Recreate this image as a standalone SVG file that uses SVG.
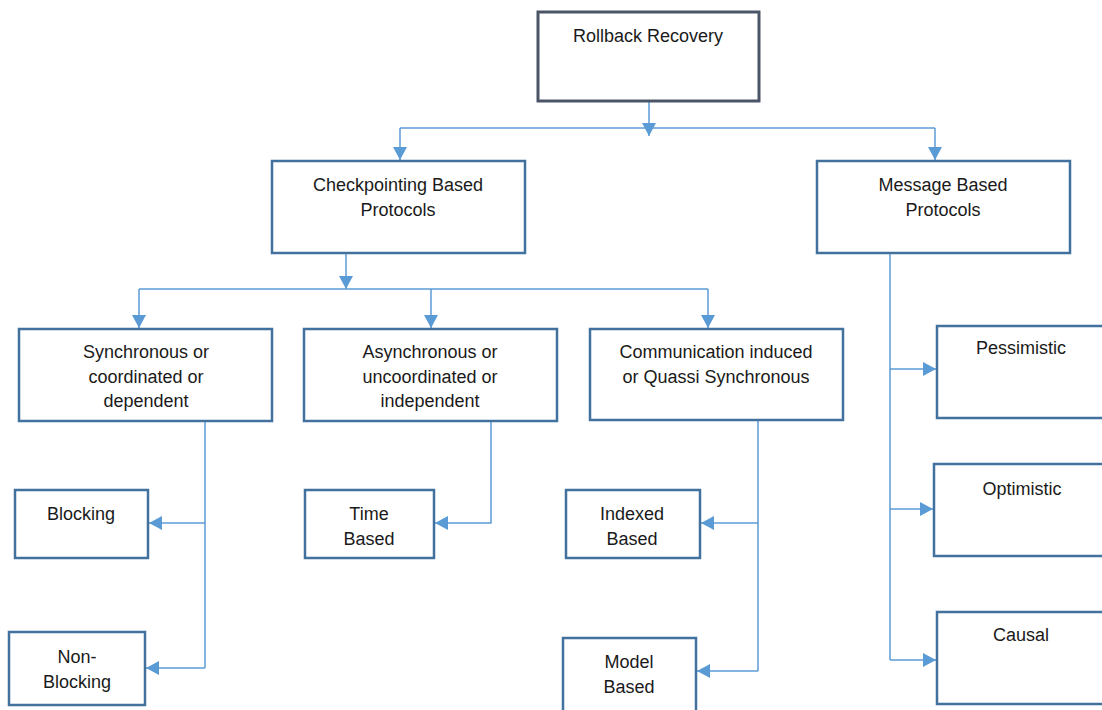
<svg xmlns="http://www.w3.org/2000/svg" width="1102" height="710" viewBox="0 0 1102 710">
<style>
.box{fill:#fff;stroke:#41719c;stroke-width:2.5}
.root{fill:#fff;stroke:#4a5567;stroke-width:3}
.t{font-family:"Liberation Sans",Arial,sans-serif;font-size:18px;fill:#1a1a1a;text-anchor:middle}
.c{fill:none;stroke:#5b9bd5;stroke-width:1.5}
</style>
<defs>
<marker id="ah" markerUnits="userSpaceOnUse" markerWidth="14" markerHeight="14" refX="13" refY="7" orient="auto">
<path d="M0,0 L13,7 L0,14 z" fill="#5b9bd5"/>
</marker>
</defs>
<rect width="1102" height="710" fill="#fff"/>
<g id="connectors">
<path class="c" d="M649,101 V136" marker-end="url(#ah)"/>
<path class="c" d="M400,128 H935"/>
<path class="c" d="M400,128 V160" marker-end="url(#ah)"/>
<path class="c" d="M935,128 V160" marker-end="url(#ah)"/>
<path class="c" d="M346,253 V289" marker-end="url(#ah)"/>
<path class="c" d="M139,289 H708"/>
<path class="c" d="M139,289 V328" marker-end="url(#ah)"/>
<path class="c" d="M431,289 V328" marker-end="url(#ah)"/>
<path class="c" d="M708,289 V328" marker-end="url(#ah)"/>
<path class="c" d="M205,421 V668"/>
<path class="c" d="M205,523 H149" marker-end="url(#ah)"/>
<path class="c" d="M205,668 H146" marker-end="url(#ah)"/>
<path class="c" d="M491,421 V523 H435" marker-end="url(#ah)"/>
<path class="c" d="M758,420 V671"/>
<path class="c" d="M758,523 H701" marker-end="url(#ah)"/>
<path class="c" d="M758,671 H697" marker-end="url(#ah)"/>
<path class="c" d="M890,253 V660"/>
<path class="c" d="M890,369 H936" marker-end="url(#ah)"/>
<path class="c" d="M890,509 H933" marker-end="url(#ah)"/>
<path class="c" d="M890,660 H936" marker-end="url(#ah)"/>
</g>
<g id="rollback"><rect class="root" x="538" y="12" width="221" height="89"/><text class="t" x="648" y="42">Rollback Recovery</text></g>
<g id="checkpointing"><rect class="box" x="272" y="161" width="253" height="92"/><text class="t" x="398" y="191">Checkpointing Based</text><text class="t" x="398" y="216">Protocols</text></g>
<g id="message"><rect class="box" x="817" y="161" width="253" height="92"/><text class="t" x="943" y="191">Message Based</text><text class="t" x="943" y="216">Protocols</text></g>
<g id="synchronous"><rect class="box" x="19" y="329" width="253" height="92"/><text class="t" x="146" y="358">Synchronous or</text><text class="t" x="146" y="383">coordinated or</text><text class="t" x="146" y="407">dependent</text></g>
<g id="asynchronous"><rect class="box" x="304" y="329" width="253" height="92"/><text class="t" x="430" y="358">Asynchronous or</text><text class="t" x="430" y="383">uncoordinated or</text><text class="t" x="430" y="407">independent</text></g>
<g id="communication"><rect class="box" x="590" y="329" width="253" height="91"/><text class="t" x="716" y="358">Communication induced</text><text class="t" x="716" y="383">or Quassi Synchronous</text></g>
<g id="blocking"><rect class="box" x="15" y="490" width="133" height="68"/><text class="t" x="81" y="520">Blocking</text></g>
<g id="nonblocking"><rect class="box" x="9" y="632" width="136" height="73"/><text class="t" x="77" y="663">Non-</text><text class="t" x="77" y="688">Blocking</text></g>
<g id="timebased"><rect class="box" x="305" y="490" width="129" height="68"/><text class="t" x="369" y="520">Time</text><text class="t" x="369" y="545">Based</text></g>
<g id="indexed"><rect class="box" x="566" y="490" width="134" height="68"/><text class="t" x="632" y="520">Indexed</text><text class="t" x="632" y="545">Based</text></g>
<g id="model"><rect class="box" x="563" y="638" width="133" height="80"/><text class="t" x="629" y="668">Model</text><text class="t" x="629" y="693">Based</text></g>
<g id="pessimistic"><rect class="box" x="937" y="326" width="180" height="92"/><text class="t" x="1021" y="354">Pessimistic</text></g>
<g id="optimistic"><rect class="box" x="934" y="464" width="180" height="92"/><text class="t" x="1022" y="495">Optimistic</text></g>
<g id="causal"><rect class="box" x="937" y="612" width="180" height="92"/><text class="t" x="1021" y="641">Causal</text></g>
</svg>
